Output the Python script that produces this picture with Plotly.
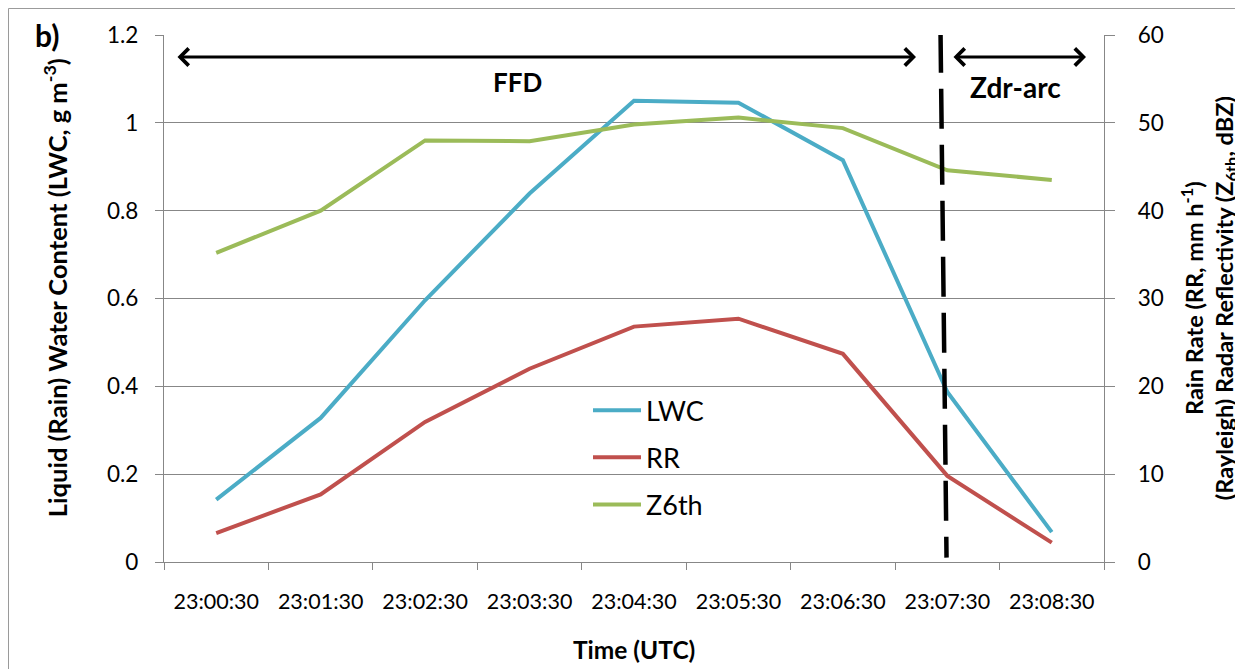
import plotly.graph_objects as go

times = ["23:00:30", "23:01:30", "23:02:30", "23:03:30", "23:04:30",
         "23:05:30", "23:06:30", "23:07:30", "23:08:30"]
lwc = [0.142, 0.328, 0.596, 0.839, 1.050, 1.046, 0.915, 0.387, 0.068]
rr = [3.3, 7.7, 15.95, 22.0, 26.8, 27.7, 23.7, 9.8, 2.2]
z6th = [35.2, 40.0, 48.0, 47.9, 49.8, 50.6, 49.4, 44.6, 43.5]
left_ticks = [0, 0.2, 0.4, 0.6, 0.8, 1.0, 1.2]
left_ticktext = ["0", "0.2", "0.4", "0.6", "0.8", "1", "1.2"]
right_ticks = [0, 10, 20, 30, 40, 50, 60]

FONT = "Lato"
GRID = "#878787"

fig = go.Figure()
fig.add_trace(go.Scatter(x=times, y=lwc, name="LWC", mode="lines",
                         line=dict(color="#4BACC6", width=4), legendgroup="a"))
fig.add_trace(go.Scatter(x=times, y=rr, name="RR", mode="lines", yaxis="y2",
                         line=dict(color="#C0504D", width=4), legendgroup="b"))
fig.add_trace(go.Scatter(x=times, y=z6th, name="Z6th", mode="lines", yaxis="y2",
                         line=dict(color="#9BBB59", width=4), legendgroup="c"))

# page has an 8px body margin: the figure is drawn from screen (8, 8)
OFF = 8
W, H = 1243 - OFF, 669 - OFF
PL, PR, PT, PB = 164, 1104, 35, 561.7          # plot area in screen pixels
L, R, T, B = PL - OFF, W - (PR - OFF), PT - OFF, H - (PB - OFF)
pw, ph = PR - PL, PB - PT

def px(xs):
    return (xs - PL) / pw

def py(ys):
    return (PB - ys) / ph

fig.update_layout(
    width=W, height=H,
    margin=dict(l=L, r=R, t=T, b=B, pad=0),
    paper_bgcolor="white", plot_bgcolor="white",
    font=dict(family=FONT, color="black", size=20),
    showlegend=True,
    legend=dict(x=px(588), y=py(386), xanchor="left", yanchor="top",
                bgcolor="rgba(0,0,0,0)", font=dict(size=27, family=FONT),
                tracegroupgap=9, itemwidth=48),
    xaxis=dict(type="category", range=[-0.5, 8.5], showgrid=False,
               showline=True, linecolor=GRID, linewidth=1.3,
               ticks="outside", tickson="boundaries", ticklen=7, tickcolor=GRID,
               tickfont=dict(size=21.5), ticklabelstandoff=20),
    yaxis=dict(range=[0, 1.2], tickvals=left_ticks, ticktext=left_ticktext,
               showgrid=True, gridcolor=GRID, gridwidth=1.3,
               showline=True, linecolor=GRID, linewidth=1.3,
               ticks="outside", ticklen=8, tickcolor=GRID,
               tickfont=dict(size=22.5), ticklabelstandoff=12, zeroline=False),
    yaxis2=dict(range=[0, 60], tickvals=right_ticks, overlaying="y", side="right",
                showgrid=False, showline=True, linecolor=GRID, linewidth=1.3,
                ticks="outside", ticklen=10, tickcolor=GRID,
                tickfont=dict(size=22.5), ticklabelstandoff=18, zeroline=False),
)

# Axis titles
fig.add_annotation(text="Liquid (Rain) Water Content (LWC, g m<sup>-3</sup>)",
                   xref="paper", yref="paper", x=px(55), y=py(288),
                   textangle=-90, showarrow=False, xanchor="center", yanchor="middle",
                   font=dict(size=25.5, family=FONT, weight="bold"))
fig.add_annotation(text="Rain Rate (RR, mm h<sup>-1</sup>)<br>(Rayleigh) Radar Reflectivity (Z<sub>6th</sub>, dBZ)",
                   xref="paper", yref="paper", x=px(1209), y=py(298),
                   textangle=-90, showarrow=False, xanchor="center", yanchor="middle",
                   font=dict(size=23.5, family=FONT, weight="bold"))
fig.add_annotation(text="Time (UTC)", xref="paper", yref="paper", x=0.5, y=py(649),
                   showarrow=False, xanchor="center", yanchor="middle",
                   font=dict(size=24.5, family=FONT, weight="bold"))
fig.add_annotation(text="b)", xref="paper", yref="paper", x=px(47), y=py(35),
                   showarrow=False, xanchor="center", yanchor="middle",
                   font=dict(size=30, family=FONT, weight="bold"))

# Period labels
fig.add_annotation(text="FFD", xref="paper", yref="paper", x=px(517), y=py(82),
                   showarrow=False, xanchor="center", yanchor="middle",
                   font=dict(size=26, family=FONT, weight="bold"))
fig.add_annotation(text="Zdr-arc", xref="paper", yref="paper", x=px(1015), y=py(87),
                   showarrow=False, xanchor="center", yanchor="middle",
                   font=dict(size=28, family=FONT, weight="bold"))

# Double-headed arrows
for x_start, x_end in [(176, 916), (952, 1086)]:
    fig.add_annotation(text="", xref="paper", yref="paper", x=px(x_end), y=py(57),
                       axref="pixel", ayref="pixel", ax=-(x_end - x_start), ay=0,
                       showarrow=True, arrowside="end+start",
                       arrowhead=4, startarrowhead=4, arrowsize=1.1, startarrowsize=1.1,
                       arrowwidth=3, arrowcolor="black")

# Dashed divider
fig.add_shape(type="line", xref="x", yref="y",
              x0=(940 - 216) / 104.4, y0=1.205, x1=(946 - 216) / 104.4, y1=0.01,
              line=dict(color="black", width=4.5, dash="40px,16px"))

# Outer frame (the chart-area border)
fig.add_shape(type="rect", xref="paper", yref="paper",
              x0=px(8.5), y0=py(700), x1=px(1300), y1=py(8.5),
              line=dict(color="#9a9a9a", width=1), fillcolor="rgba(0,0,0,0)", layer="below")

fig.write_html("out.html")
